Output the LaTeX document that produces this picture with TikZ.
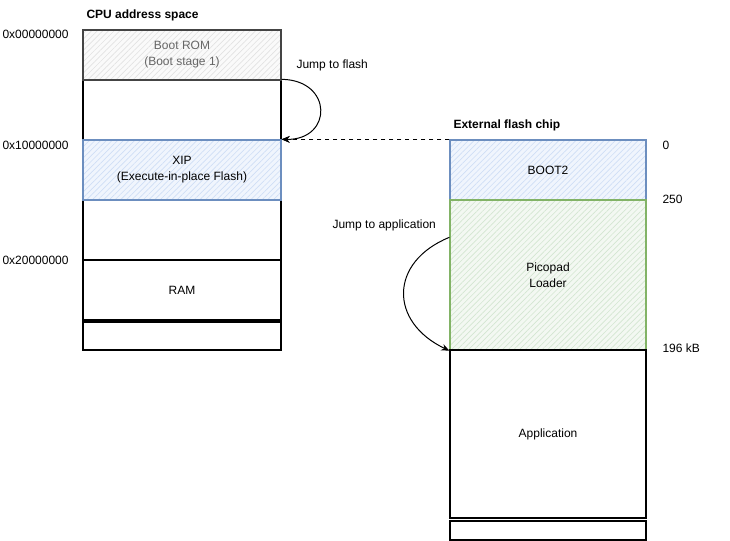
\documentclass[tikz,border=0pt]{standalone}
\usepackage{fontspec}
\setmainfont{Liberation Sans}
\usetikzlibrary{arrows.meta,patterns.meta}

\definecolor{romfill}{HTML}{FAFAFA}
\definecolor{romhatch}{HTML}{E2E2E2}
\definecolor{romtext}{HTML}{666666}
\definecolor{romline}{HTML}{444444}
\definecolor{xipfill}{HTML}{F0F5FD}
\definecolor{xiphatch}{HTML}{CFDEF6}
\definecolor{xipline}{HTML}{6C8EBF}
\definecolor{ldrfill}{HTML}{F3F8F2}
\definecolor{ldrhatch}{HTML}{D3E6D1}
\definecolor{ldrline}{HTML}{82B366}

\tikzset{every picture/.style={line width=0.75pt}}
\tikzset{
  block/.style={draw=black, line width=1pt, inner sep=0pt, minimum width=148.5pt, font=\fontsize{9}{12}\selectfont, align=center},
  hatch/.style n args={2}{preaction={fill=#1}, pattern={Lines[angle=45,distance=3pt,line width=0.5pt]}, pattern color=#2},
  lbl/.style={anchor=west, inner sep=0.75pt, font=\fontsize{9}{11}\selectfont},
  ttl/.style={anchor=west, inner sep=0.75pt, font=\fontsize{9}{11}\selectfont\bfseries},
  jump/.style={-{Stealth[length=6pt,width=5pt]}, line width=0.75pt},
}

\begin{document}
\begin{tikzpicture}[x=0.75pt,y=0.75pt,yscale=-1,xscale=1]
    \useasboundingbox (0,0) rectangle (730,541);

    %CPU address space
    \node[block, minimum height=45pt] (gapa) at (182,110) {};
    \node[block, minimum height=45pt] (gapb) at (182,230) {};
    \node[block, draw=romline, text=romtext, hatch={romfill}{romhatch}, minimum height=37.5pt] (rom) at (182,55) {Boot ROM\\(Boot stage 1)};
    \node[block, draw=xipline, hatch={xipfill}{xiphatch}, minimum height=45pt] (xip) at (182,170) {XIP\\(Execute-in-place Flash)};
    \node[block, minimum height=45pt] (ram) at (182,290) {RAM};
    \node[block, minimum height=21pt] (ramtail) at (182,336) {};

    %External flash chip
    \node[block, minimum width=147pt, draw=xipline, hatch={xipfill}{xiphatch}, minimum height=45pt] (boot) at (548,170) {BOOT2};
    \node[block, minimum width=147pt, draw=ldrline, hatch={ldrfill}{ldrhatch}, minimum height=112.5pt] (ldr) at (548,275) {Picopad\\Loader};
    \node[block, minimum width=147pt, minimum height=126pt] (app) at (548,434) {Application};
    \node[block, minimum width=147pt, minimum height=14.25pt] (apptail) at (548,530.5) {};

    %Jumps
    \path (ldr.north west) ++(0,38) coordinate (ldrout);
    \draw[jump] (gapa.north east) .. controls (333,80) and (333,140) .. (xip.north east);
    \draw[jump, dashed] (boot.north west) -- (xip.north east);
    \draw[jump] (ldrout) .. controls (389,262) and (389,322) .. (ldr.south west);

    % Text Node
    \node[ttl] (cputitle) at (85,15) {CPU address space};
    \node[ttl] (flashtitle) at (452,125) {External flash chip};
    \node[lbl] (adra) at (1,34) {0x00000000};
    \node[lbl] (adrb) at (1,145) {0x10000000};
    \node[lbl] (adrc) at (1,260) {0x20000000};
    \node[lbl] (jflash) at (295,65) {Jump to flash};
    \node[lbl] (japp) at (331,225) {Jump to application};
    \node[lbl] (offa) at (661,145) {0};
    \node[lbl] (offb) at (661,199) {250};
    \node[lbl] (offc) at (661,348) {196 kB};
\end{tikzpicture}
\end{document}
